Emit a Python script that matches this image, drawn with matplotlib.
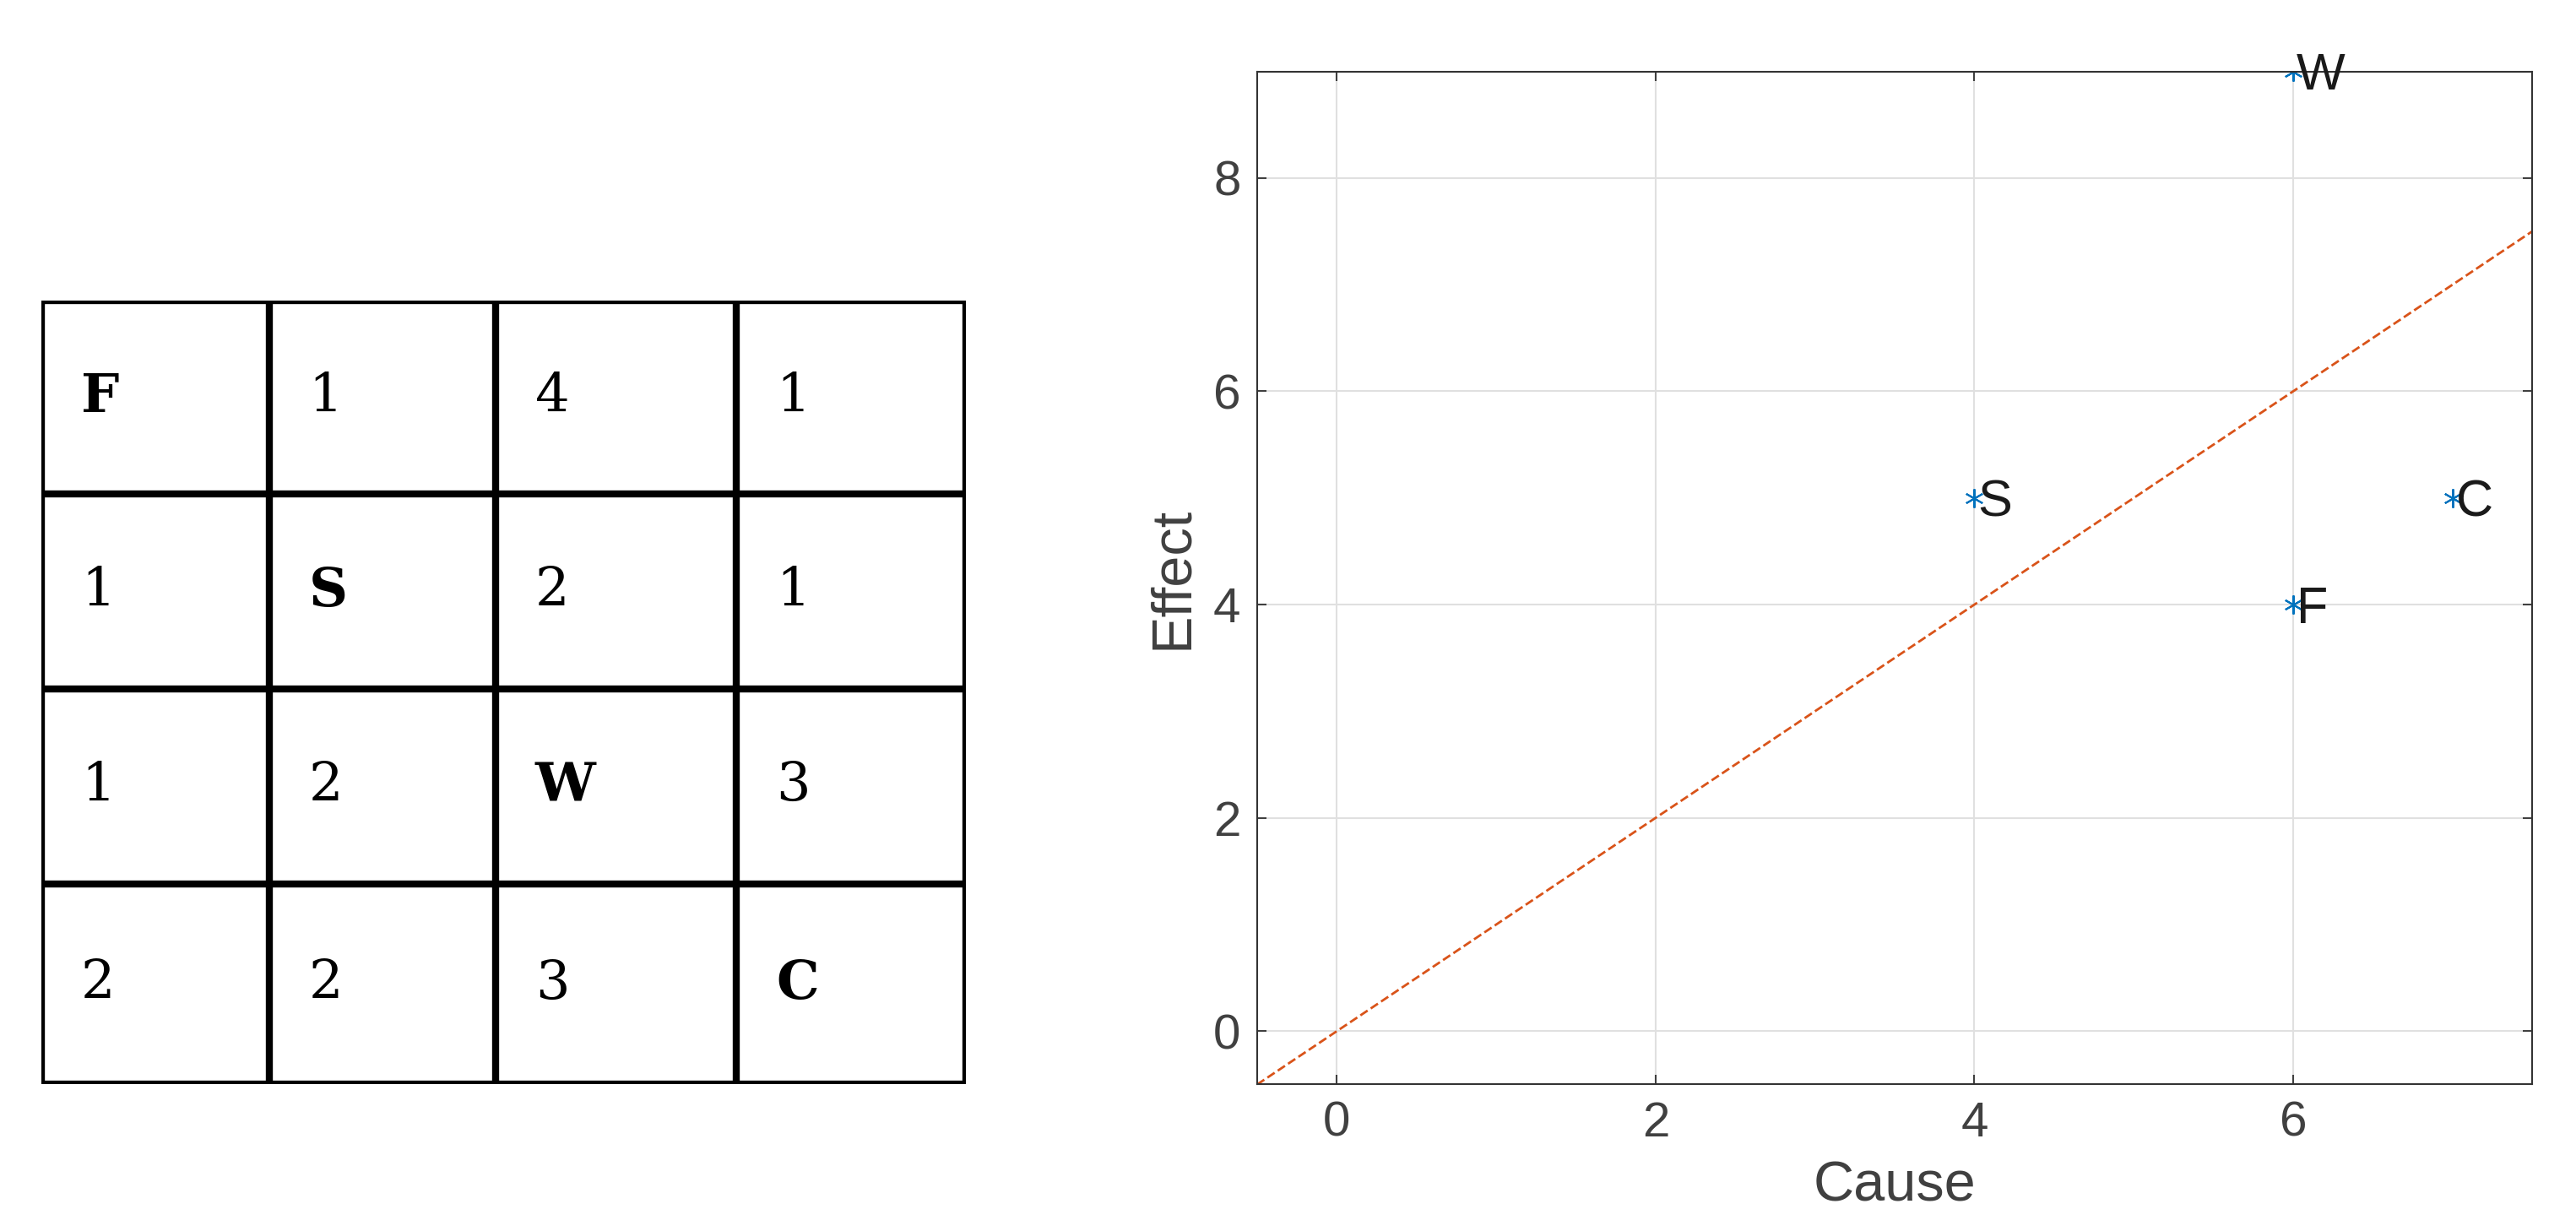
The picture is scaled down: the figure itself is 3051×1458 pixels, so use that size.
import matplotlib
matplotlib.use("Agg")
import matplotlib.pyplot as plt

table = [["F", "1", "4", "1"],
         ["1", "S", "2", "1"],
         ["1", "2", "W", "3"],
         ["2", "2", "3", "C"]]
bold_cells = {"F", "S", "W", "C"}
names = ["F", "S", "W", "C"]
cause = [6, 4, 6, 7]
effect = [4, 5, 9, 5]

fig = plt.figure(figsize=(30.51, 14.58), dpi=100)

# table
tax = fig.add_axes([0.016, 0.119, 0.359, 0.637])
col_b = [0, 138, 275, 421, 560]
row_b = [0, 117, 235, 353, 474]
tax.set_xlim(0, 560); tax.set_ylim(474, 0)
tax.axis("off")
for x in col_b:
    tax.plot([x, x], [0, 474], color="black", lw=6, solid_capstyle="projecting")
for y in row_b:
    tax.plot([0, 560], [y, y], color="black", lw=6, solid_capstyle="projecting")
for i, row in enumerate(table):
    for j, v in enumerate(row):
        tax.text(col_b[j] + 24, (row_b[i] + row_b[i+1]) / 2, v,
                 fontsize=46, family="DejaVu Serif", va="center", ha="left",
                 fontweight="bold" if v in bold_cells else "normal")

# scatter
ax = fig.add_axes([0.488, 0.119, 0.495, 0.823])
ax.set_xlim(-0.5, 7.5); ax.set_ylim(-0.5, 9)
ax.plot([-0.5, 7.5], [-0.5, 7.5], ls="--", color="#D95319", lw=2)
ax.plot(cause, effect, marker=(6, 2, 0), color="#0072BD", ms=16, mew=1.5, ls="none")
for n, x, y in zip(names, cause, effect):
    ax.text(x + 0.02, y - 0.05, n, fontsize=44, va="center", ha="left",
            family="Liberation Sans", color="#1a1a1a")
ax.set_xticks([0, 2, 4, 6]); ax.set_yticks([0, 2, 4, 6, 8])
ax.grid(True, color="#e0e0e0", lw=1.5)
ax.set_axisbelow(True)
ax.tick_params(labelsize=42, colors="#404040", length=8, direction="in", width=1.5, pad=14)
ax.tick_params(top=True, right=True)
for lab in ax.get_xticklabels() + ax.get_yticklabels():
    lab.set_family("Liberation Sans")
for s in ax.spines.values():
    s.set_color("#333333"); s.set_linewidth(1.5)
ax.set_xlabel("Cause", fontsize=48, color="#404040", labelpad=12, family="Liberation Sans")
ax.set_ylabel("Effect", fontsize=48, color="#404040", labelpad=12, family="Liberation Sans")

fig.savefig("out.png", dpi=100)
